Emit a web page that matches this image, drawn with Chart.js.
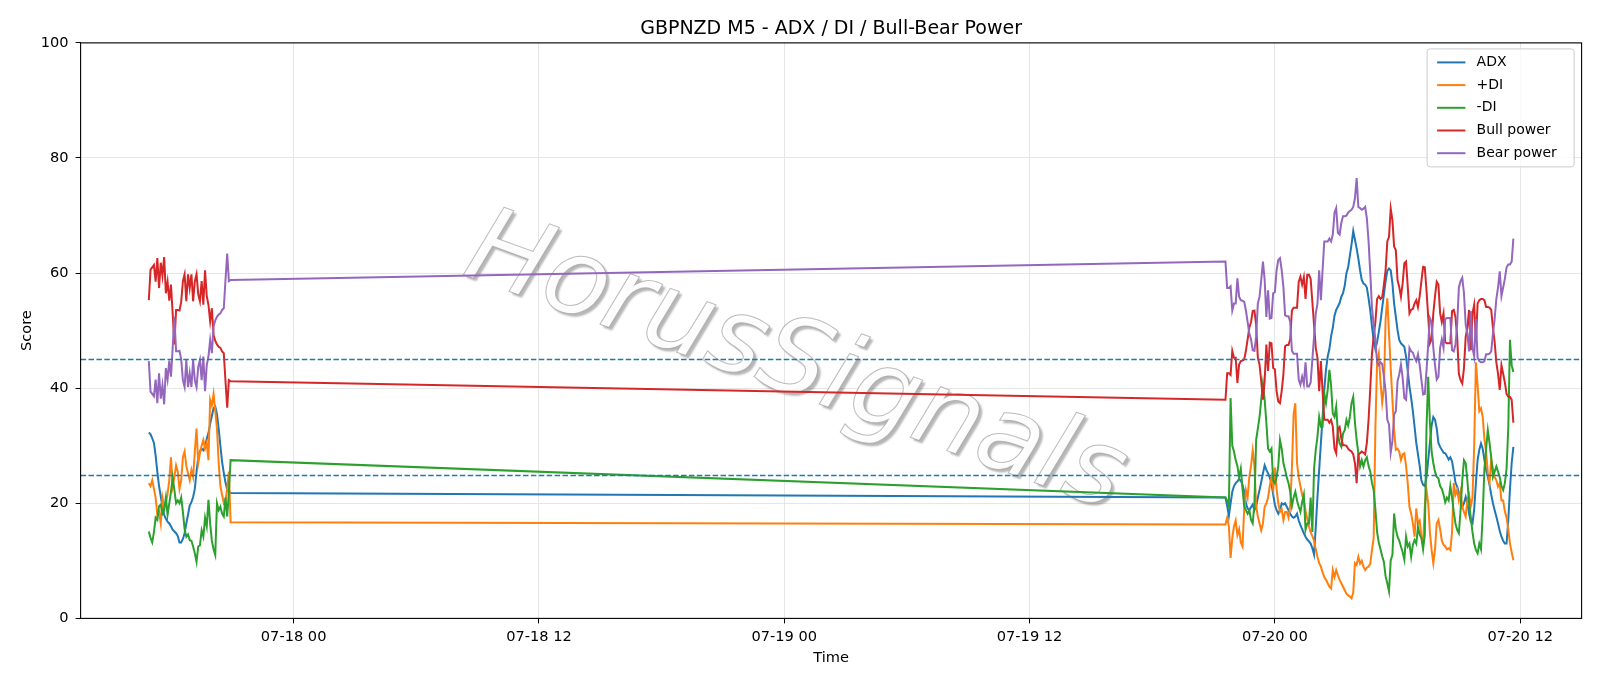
<!DOCTYPE html>
<html>
<head>
<meta charset="utf-8">
<title>GBPNZD M5 - ADX / DI / Bull-Bear Power</title>
<script src="https://cdn.jsdelivr.net/npm/chart.js@4.4.1/dist/chart.umd.min.js"></script>
<style>
  html, body { margin: 0; padding: 0; background: #fff; }
  #wrap { width: 1600px; height: 686px; }
</style>
</head>
<body>
<div id="wrap"><canvas id="chart" width="1600" height="686"></canvas></div>
<script>
// two M5 sessions, the line just joins across the weekend gap
const sessionStarts = ['07-17 16:55', '07-19 21:35'];
const barMinutes = 5;
const xTickLabels = ['07-18 00', '07-18 12', '07-19 00', '07-19 12', '07-20 00', '07-20 12'];
const yTicks = [0, 20, 40, 60, 80, 100];
const thresholds = [45, 25];

// session 1
const adx1 = [32.3,32,31.3,30.5,28.3,25.4,23,21.2,19.4,18,17.3,16.8,16.5,16,15.4,15.1,14.8,14.3,13.2,13.2,13.8,14.8,16.5,18,19.6,20.2,21.1,22.5,25.5,28,29,29.5,29.2,29.8,31.2,32.2,33.8,35.2,36.5,36.8,35.5,33,30,27.2,25.3,23.6,22.4,22,21.8];
const plusDi1 = [23.5,23,24,22.5,21,18,18.5,16.5,21,19.4,20,21.7,24,28,23,24.6,26.6,25.5,22.5,24,28,29,26.5,25.2,24,25.8,24.6,29,33,27,28.7,30,31,29.5,30.5,27.5,38,37,39,36,33,27,23,21.5,20,20.5,22.5,25.5,16.7];
const minusDi1 = [15.1,14,13.2,15,17.5,17.1,19.5,19.8,18.2,18.8,21,18,20,22,24.5,22.3,20,20.5,20,21,18.5,15.5,14.2,14.6,13.6,13.5,12.5,11.3,9.8,12.5,12.7,15.3,14.2,17.5,16,20.6,16.5,13.5,12,11,20,18.8,19.4,18.2,17.7,21,17.7,22,27.5];
const bull1 = [55.3,60.6,61,61.4,58.5,62.6,57.4,61.8,59.5,62.8,56.5,58.5,55.2,58,53,47.6,53.6,53.6,53.5,55,58.6,59.8,55.1,59.8,57.4,59.8,55.1,58.6,59.8,56.3,55.1,58.6,54.5,60.5,56,54.5,51.6,53.9,49.3,48.2,47.6,47.2,47,46.4,46.1,41.2,36.6,41.4,41.2];
const bear1 = [44.7,39.4,39,38.6,41.5,37.4,42.6,38.2,40.5,37.2,43.5,41.5,44.8,42,47,52.4,46.4,46.4,46.5,45,41.4,40.2,44.9,40.2,42.6,40.2,44.9,41.4,40.2,43.7,44.9,41.4,45.5,39.5,44,45.5,48.4,46.1,50.7,51.8,52.4,52.8,53,53.6,53.9,58.8,63.4,58.6,58.8];

// session 2
const adx2 = [21,19.5,17.8,20,22,23,23.5,23.8,24.2,24,
  23.2,22,20,19.1,18.8,19.3,19.8,18.8,19.4,21,
  22.3,23.7,25.2,26.6,25.8,25.2,24.5,23.5,21.5,19.8,
  18.8,18.2,18.8,20,19.8,20,19.4,18.8,18.2,17.7,
  17.5,17.7,18.2,17,16.2,15.5,14.8,14.2,13.7,13.4,
  13,12.2,11.1,15.9,21.1,25.8,30.4,35,39.7,43.2,
  45.5,46.8,49,50.5,52.6,53.6,54.2,54.8,55.9,56.5,
  57.8,60,61,63,65,67.3,65.8,64.3,62.5,60.5,
  58.8,58.2,58,57.5,55.6,53.5,50.7,48.3,46.8,48,
  49.8,51.6,54,56.3,58.6,60.4,60.8,60.5,58.2,54.7,
  52.4,50.1,48.4,47.8,47.5,47.2,45.5,43,40.3,38.3,
  36,33.3,30.5,28.5,26.5,24,23.2,23,24.5,27.5,
  30.5,33.5,35,34.5,33,30.5,29.8,29.3,28.8,28.7,
  28.2,27.6,28,27.3,25.5,23.6,22.9,21.8,20.6,19.4,
  20,21.1,20,18.2,16.8,16.5,19,23.5,27.5,29.3,
  30.4,29.5,27.5,25.8,24.6,23.2,21.5,20,18.8,17.7,
  16.5,15.2,14.2,13.5,13,13,17,22.5,27,29.8];
const plusDi2 = [16.3,17.5,16,10.5,14,16,17,14.5,15.5,13.2,
  12.5,19,22.3,21,24.6,26.5,29.2,26.5,19.5,17.7,
  16.5,15.3,16.5,19.4,20,21,23,24.5,22.5,26.2,
  22.5,20,18.5,19,17.1,18.5,18.5,17.5,19.4,26,
  35.5,37.4,27,24.5,23,21.5,20.5,18.7,17.3,16,
  15,14.3,13.5,12,10.7,9.6,9,8,7.2,6.7,
  6.1,5.5,5.2,8.4,7.2,8.4,7.5,6.7,6.1,5.5,
  4.9,4.3,4,3.8,3.5,4.5,9.6,9.3,10.7,9.5,
  10,9,8.4,8.8,9,9.5,11.9,14,33,44.5,
  46,41,37.5,40,52,55.6,49.5,43.5,38,32.7,
  29.3,29.5,29,27.5,28.5,28.7,26.5,23.5,19.4,18.2,
  16.5,14.2,19.1,16.5,17,14.2,13,19.4,22.3,20,
  15,11.9,9.6,12,16.5,17.1,15.5,13.5,12.8,12.5,
  12,12.2,11.9,15,23.5,21.5,22.3,20.5,22,19.4,
  18.5,17.7,20.6,21.5,19.5,21,30,44.5,40.5,36,
  36.5,35,31.2,29,25.2,23.5,27.5,26,24.6,24,
  22.9,23.5,20.5,20.5,18.6,17.5,15.5,13,11.5,10.1];
const minusDi2 = [21,20.5,19.5,38.3,30,29,27.5,26.5,24.5,26,
  22.5,19.5,18.8,18.2,18.8,17.1,16.5,20,31,33,
  35,38,40.8,38,34,29.5,29,29.5,24,23.5,
  24.5,26.5,31,29.5,27,25.8,24.5,23.5,22,19.5,
  21,22,20.5,19.4,18.5,20.2,21.5,15.4,16.5,16.5,
  21,15,26,29.3,31.6,35,33.3,33.3,39.1,37.4,
  39.7,43.2,40.5,35.6,35,36.8,32.1,30.4,29.8,32.1,
  32.7,34.5,33.5,35,37.4,38.5,34,31,28.7,26.4,
  27.5,26.4,27.5,28,26.5,25.5,23.5,22.3,19,15,
  13.2,12,10.8,9.8,7.3,6.1,4.7,10.1,11,18.2,
  15.5,14.2,13.5,12.5,11.5,10.2,14.2,12.5,13,10.7,
  12.8,13.6,13,15.9,14.5,14,12,14.5,33,42,
  34,29,27,25.5,24.6,24.3,23,22.5,21.5,20.2,
  21,20.5,23,21,18.5,16.5,15.4,14.8,18.8,24,
  27.5,27,24,20,17.5,15,13,11.9,11.3,13,
  12,18,26,29.5,32.7,30.5,28,24.6,25.5,26.4,
  25.5,24.5,23,22.3,23.5,26,33,48.4,44,42.8];
const bull2 = [38,42.6,42.6,42.3,46.5,45.3,45.3,40.9,44.1,44.7,
  44.8,45,46.5,48.5,50.5,51.5,53.4,53.5,51,45.3,
  44.1,41.2,38,41.2,47.6,43,47.9,47.8,43.5,43.3,
  39.5,37.7,37.4,39.5,42.4,47.3,47.5,47.5,48.5,53.5,
  54,54,54,58.5,59.4,58,59.3,55.5,59.7,59.7,
  59,55,51,47,45.3,39.5,44.7,39.5,34.5,34.5,
  34.5,34,34.5,33.3,29.5,28.7,33,33.3,31.3,30.1,
  30.1,30,29.5,29.2,29,28.5,27,23.5,28.5,28.7,
  29,28.8,28.5,30.5,34.5,40,46,49,51.5,55.5,
  56,55.5,55.8,58,60.5,65.5,66.3,71.2,69.2,64.6,
  64,58.8,57.6,55.9,58.2,61.7,62,57.6,53,53.6,
  53.8,54.7,55.3,54.1,56,58.5,61.1,61,57,52.4,
  47.8,48.5,53,56,58.5,58,53,51.5,53,48,
  47.8,47.8,47.8,53.4,53.6,52.4,49,42.5,41.4,40.8,
  43.5,48.9,50.5,53.6,46.6,53,54.5,48,54.7,55.3,
  55.5,55.5,55.3,54.1,54.1,54,53.6,50.5,48,44.5,
  42.5,39.7,44,42.5,41,39,38.5,38.5,38,34];
const bear2 = [62,57.4,57.4,57.7,53.5,54.7,54.7,59.1,55.9,55.3,
  55.2,55,53.5,51.5,49.5,48.5,46.6,46.5,49,54.7,
  55.9,58.8,62,58.8,52.4,57,52.1,52.2,56.5,56.7,
  60.5,62.3,62.6,60.5,57.6,52.7,52.5,52.5,51.5,46.5,
  46,46,46,41.5,40.6,42,40.7,44.5,40.3,40.3,
  41,45,49,53,54.7,60.5,55.3,60.5,65.5,65.5,
  65.5,66,65.5,66.7,70.5,71.3,67,66.7,68.7,69.9,
  69.9,70,70.5,70.8,71,71.5,73,76.5,71.5,71.3,
  71,71.2,71.5,69.5,65.5,60,54,51,48.5,44.5,
  44,44.5,44.2,42,39.5,34.5,33.7,28.8,30.8,35.4,
  36,41.2,42.4,44.1,41.8,38.3,38,42.4,47,46.4,
  46.2,45.3,44.7,45.9,44,41.5,38.9,39,43,47.6,
  52.2,51.5,47,44,41.5,42,47,48.5,47,52,
  52.2,52.2,52.2,46.6,46.4,47.6,51,57.5,58.6,59.2,
  56.5,51.1,49.5,46.4,53.4,47,45.5,52,45.3,44.7,
  44.5,44.5,44.7,45.9,45.9,46,46.4,49.5,52,55.5,
  57.5,60.3,56,57.5,59,61,61.5,61.5,62,66];

// 'MM-DD HH[:MM]' -> hours from 07-18 00:00
function toHours(s) {
  const [md, hm] = s.split(' ');
  const day = parseInt(md.split('-')[1], 10);
  const [h, m] = hm.split(':').map(Number);
  return (day - 18) * 24 + h + (m || 0) / 60;
}

function toPoints(a, b) {
  const pts = [];
  [a, b].forEach((vals, s) => {
    const t0 = toHours(sessionStarts[s]);
    vals.forEach((v, i) => pts.push({ x: t0 + i * barMinutes / 60, y: v }));
  });
  return pts;
}

const series = [
  { label: 'ADX', color: '#1f77b4', data: toPoints(adx1, adx2) },
  { label: '+DI', color: '#ff7f0e', data: toPoints(plusDi1, plusDi2) },
  { label: '-DI', color: '#2ca02c', data: toPoints(minusDi1, minusDi2) },
  { label: 'Bull power', color: '#d62728', data: toPoints(bull1, bull2) },
  { label: 'Bear power', color: '#9467bd', data: toPoints(bear1, bear2) }
];

const xFirst = series[0].data[0].x;
const xLast = series[0].data[series[0].data.length - 1].x;
const xPad = (xLast - xFirst) * 0.05;
const FONT = '"DejaVu Sans", Verdana, sans-serif';

const watermark = {
  id: 'watermark',
  beforeDatasetsDraw(chart) {
    const { ctx, chartArea: a } = chart;
    ctx.save();
    ctx.beginPath();
    ctx.rect(a.left, a.top, a.width, a.height);
    ctx.clip();
    ctx.translate(795, 366);
    ctx.rotate(20 * Math.PI / 180);
    ctx.font = 'italic 106px ' + FONT;
    ctx.textAlign = 'center';
    ctx.textBaseline = 'middle';
    ctx.shadowColor = 'rgba(0,0,0,0.3)';
    ctx.shadowOffsetX = 3;
    ctx.shadowOffsetY = 3;
    ctx.shadowBlur = 2;
    ctx.fillStyle = 'rgba(255,255,255,0.95)';
    ctx.fillText('HorusSignals', 0, 0);
    ctx.shadowColor = 'transparent';
    ctx.lineWidth = 1;
    ctx.strokeStyle = 'rgba(160,160,160,0.7)';
    ctx.strokeText('HorusSignals', 0, 0);
    ctx.restore();
  }
};

const overlay = {
  id: 'overlay',
  afterDatasetsDraw(chart) {
    const { ctx, chartArea: a, scales: { y } } = chart;
    ctx.save();
    // threshold lines
    ctx.strokeStyle = '#1f77b4';
    ctx.lineWidth = 1.3;
    ctx.setLineDash([5.5, 2.4]);
    thresholds.forEach(v => {
      const py = Math.round(y.getPixelForValue(v)) + 0.5;
      ctx.beginPath();
      ctx.moveTo(a.left, py);
      ctx.lineTo(a.right, py);
      ctx.stroke();
    });
    ctx.setLineDash([]);
    // frame
    ctx.strokeStyle = '#000';
    ctx.lineWidth = 1.1;
    ctx.strokeRect(a.left, a.top, a.width, a.height);

    // legend
    const bw = 147, bh = 118;
    const bx = a.right - 8 - bw, by = a.top + 5.5;
    ctx.fillStyle = 'rgba(255,255,255,0.8)';
    ctx.strokeStyle = '#cccccc';
    ctx.lineWidth = 1;
    ctx.beginPath();
    ctx.roundRect(bx + 0.5, by + 0.5, bw, bh, 3);
    ctx.fill();
    ctx.stroke();
    ctx.font = '14px ' + FONT;
    ctx.textBaseline = 'middle';
    ctx.textAlign = 'left';
    series.forEach((s, i) => {
      const cy = by + 14 + i * 22.7;
      ctx.strokeStyle = s.color;
      ctx.lineWidth = 2;
      ctx.beginPath();
      ctx.moveTo(bx + 10.5, cy);
      ctx.lineTo(bx + 38.8, cy);
      ctx.stroke();
      ctx.fillStyle = '#000';
      ctx.fillText(s.label, bx + 50, cy);
    });

    // title
    ctx.font = '19px ' + FONT;
    ctx.textAlign = 'center';
    ctx.fillText('GBPNZD M5 - ADX / DI / Bull-Bear Power', (a.left + a.right) / 2, 29.5);
    ctx.restore();
  }
};

Chart.defaults.font.family = FONT;
Chart.defaults.color = '#000';

new Chart(document.getElementById('chart'), {
  type: 'line',
  data: {
    datasets: series.map((s, i) => ({
      label: s.label,
      data: s.data,
      borderColor: s.color,
      backgroundColor: s.color,
      borderWidth: 2,
      pointRadius: 0,
      tension: 0,
      fill: false,
      order: series.length - i
    }))
  },
  options: {
    responsive: false,
    devicePixelRatio: 1,
    animation: false,
    layout: { padding: { top: 42.9, right: 18.4, left: 0, bottom: 0 } },
    plugins: { legend: { display: false }, tooltip: { enabled: false }, title: { display: false } },
    scales: {
      x: {
        type: 'linear',
        min: xFirst - xPad,
        max: xLast + xPad,
        afterBuildTicks: sc => { sc.ticks = xTickLabels.map(l => ({ value: toHours(l) })); },
        afterFit: sc => { sc.height = 67.6; },
        ticks: {
          font: { size: 14.6 },
          color: '#000',
          padding: 5,
          maxRotation: 0,
          callback: v => xTickLabels.find(l => Math.abs(toHours(l) - v) < 1e-6) || ''
        },
        grid: { color: '#e6e6e6', lineWidth: 1, tickColor: '#000', tickLength: 5 },
        border: { display: false },
        title: { display: true, text: 'Time', font: { size: 14.6 }, color: '#000', padding: { bottom: 19.5, top: 0 } }
      },
      y: {
        min: 0,
        max: 100,
        afterBuildTicks: sc => { sc.ticks = yTicks.map(v => ({ value: v })); },
        afterFit: sc => { sc.width = 80.6; },
        ticks: { font: { size: 14.6 }, color: '#000', padding: 7 },
        grid: { color: '#e6e6e6', lineWidth: 1, tickColor: '#000', tickLength: 5 },
        border: { display: false },
        title: { display: true, text: 'Score', font: { size: 14.6 }, color: '#000', padding: { top: 18.5, bottom: 0 } }
      }
    }
  },
  plugins: [watermark, overlay]
});
</script>
</body>
</html>
